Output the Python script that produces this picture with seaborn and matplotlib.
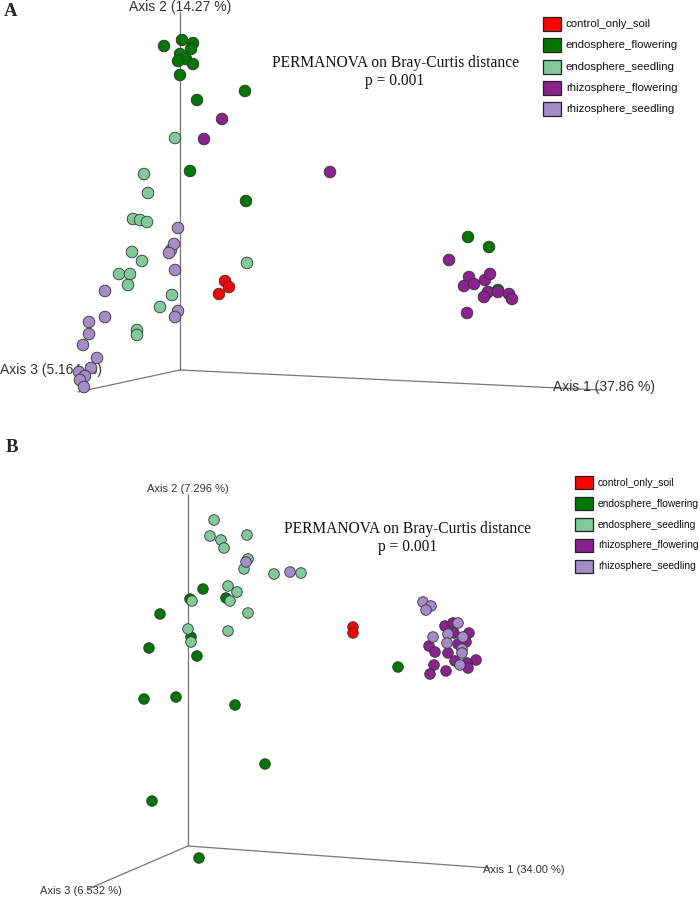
import matplotlib
matplotlib.use("Agg")
import matplotlib.pyplot as plt
from matplotlib.patches import Rectangle
import seaborn as sns
import pandas as pd

sns.set_theme(style="white")
plt.rcParams['font.family'] = ['Liberation Sans', 'DejaVu Sans']

groups = ["control_only_soil", "endosphere_flowering", "endosphere_seedling",
          "rhizosphere_flowering", "rhizosphere_seedling"]
colors = ["#FF0000", "#007800", "#80C99B", "#8C2290", "#A58BC8"]

# ---- Panel A projected coordinates (screen projection of PCoA axes) ----
A_control_x = [225, 229, 219]
A_control_y = [281, 287, 294]
A_endoflow_x = [164, 182, 193, 191, 180, 186, 178, 193, 180, 245, 197, 190, 246, 468, 489, 498]
A_endoflow_y = [46, 40, 43, 49, 54, 59, 61, 64, 75, 91, 100, 171, 201, 237, 247, 290]
A_endoseed_x = [175, 144, 148, 133, 140, 147, 132, 142, 119, 130, 128, 171, 172, 160, 137, 137, 247]
A_endoseed_y = [138, 174, 193, 219, 220, 222, 252, 261, 274, 274, 285, 250, 295, 307, 330, 335, 263]
A_rhizoflow_x = [222, 204, 330, 449, 469, 464, 474, 485, 490, 488, 484, 498, 509, 512, 467]
A_rhizoflow_y = [119, 139, 172, 260, 277, 286, 284, 280, 274, 292, 297, 292, 294, 299, 313]
A_rhizoseed_x = [178, 174, 169, 175, 105, 178, 175, 105, 89, 89, 83, 97, 91, 79, 85, 80, 84]
A_rhizoseed_y = [228, 244, 253, 270, 291, 311, 317, 317, 322, 334, 345, 358, 368, 372, 376, 380, 387]

# ---- Panel B projected coordinates ----
B_control_x = [353, 353]
B_control_y = [627, 633]
B_endoflow_x = [203, 190, 226, 160, 191, 149, 197, 144, 176, 235, 265, 152, 199, 398]
B_endoflow_y = [589, 599, 598, 614, 637, 648, 656, 699, 697, 705, 764, 801, 858, 667]
B_endoseed_x = [214, 210, 221, 224, 247, 248, 244, 274, 301, 228, 237, 230, 192, 248, 188, 191, 228]
B_endoseed_y = [520, 536, 540, 548, 535, 559, 569, 574, 573, 586, 592, 601, 601, 613, 629, 642, 631]
B_rhizoflow_x = [445, 453, 454, 469, 466, 458, 429, 435, 448, 476, 455, 467, 468, 434, 446, 430]
B_rhizoflow_y = [626, 623, 633, 633, 642, 644, 646, 652, 653, 660, 661, 663, 668, 665, 671, 674]
B_rhizoseed_x = [246, 290, 423, 431, 426, 458, 448, 463, 433, 447, 462, 462, 460]
B_rhizoseed_y = [562, 572, 602, 606, 610, 623, 634, 637, 637, 643, 649, 653, 665]

axis_labels_A = ["Axis 1 (37.86 %)", "Axis 2 (14.27 %)", "Axis 3 (5.164 %)"]
axis_labels_B = ["Axis 1 (34.00 %)", "Axis 2 (7.296 %)", "Axis 3 (6.532 %)"]
stat_text = "PERMANOVA on Bray-Curtis distance\np = 0.001"


def frame(prefix):
    keys = ["control", "endoflow", "endoseed", "rhizoflow", "rhizoseed"]
    xs = [globals()[f"{prefix}_{k}_x"] for k in keys]
    ys = [globals()[f"{prefix}_{k}_y"] for k in keys]
    rows = []
    for g, xx, yy in zip(groups, xs, ys):
        for a, b in zip(xx, yy):
            rows.append((g, a, b))
    return pd.DataFrame(rows, columns=["group", "x", "y"])


fig = plt.figure(figsize=(7.0, 8.97), dpi=100)
ax = fig.add_axes([0, 0, 1, 1])

pal = dict(zip(groups, colors))


def draw_axes(origin, top, left, right, labels, lab_pos, fs):
    ox, oy = origin
    for end in (top, left, right):
        ax.plot([ox, end[0]], [oy, end[1]], color="#777777", lw=0.9, zorder=1)
    for lab, (px, py, ha) in zip(labels, lab_pos):
        ax.text(px, py, lab, ha=ha, va="center", fontsize=fs, color="#333333", zorder=2)


draw_axes((180, 370), (180, 12), (78, 392), (600, 390), axis_labels_A,
          [(553, 387, "left"), (180, 7, "center"), (0, 370, "left")], 10)
draw_axes((188, 846), (188, 494), (88, 889), (490, 868), axis_labels_B,
          [(483, 870, "left"), (188, 489, "center"), (40, 891, "left")], 8)

dfA = frame("A")
dfB = frame("B")
sns.scatterplot(data=dfA, x="x", y="y", hue="group", palette=pal, s=70,
                edgecolor="#333333", linewidth=0.6, legend=False, ax=ax, zorder=3)
sns.scatterplot(data=dfB, x="x", y="y", hue="group", palette=pal, s=58,
                edgecolor="#333333", linewidth=0.6, legend=False, ax=ax, zorder=3)
ax.set_xlim(0, 700)
ax.set_ylim(897, 0)
ax.axis("off")

# statistic text
for cx, cy in [(395, 72), (408, 538)]:
    ax.text(cx, cy, stat_text, ha="center", va="center", fontsize=11.2,
            family=['Liberation Serif', 'DejaVu Serif'], linespacing=1.2, color="#111111")

# panel letters
for lab, px, py in [("A", 4, 12), ("B", 6, 447)]:
    ax.text(px, py, lab, ha="left", va="center", fontsize=13.5, fontweight="bold",
            family=['Liberation Serif', 'DejaVu Serif'])


def legend(x0, y0, dy, fs, w, h):
    for i, (g, c) in enumerate(zip(groups, colors)):
        yc = y0 + i * dy
        ax.add_patch(Rectangle((x0, yc - h / 2), w, h, facecolor=c, edgecolor="#222222", lw=0.9, zorder=4))
        ax.text(x0 + w + 5, yc, g, ha="left", va="center", fontsize=fs, color="#111111", zorder=4)


legend(543, 24, 21.3, 8.2, 18, 14)
legend(575, 483, 20.8, 7.4, 18, 13)

fig.savefig("out.png", dpi=100)
